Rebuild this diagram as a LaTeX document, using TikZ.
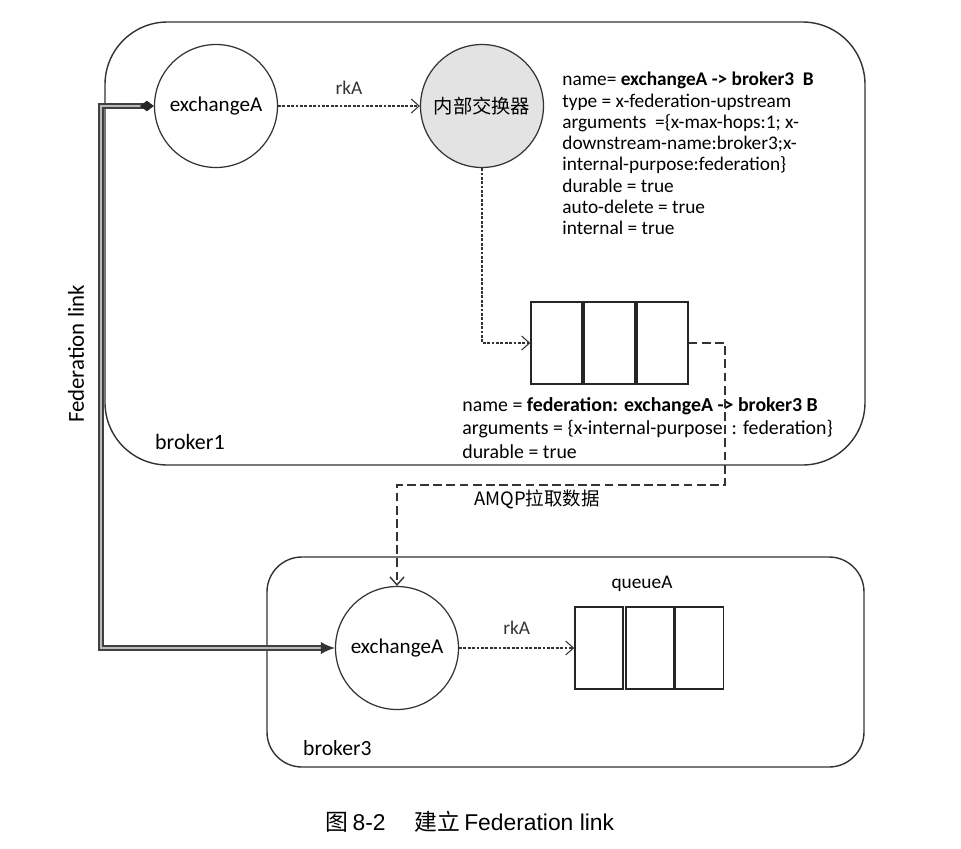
\documentclass[tikz,border=0pt]{standalone}
\usepackage{fontspec}
\setmainfont{Carlito}
\newfontfamily\cjk{Noto Sans CJK SC}
\newfontfamily\capfont{Liberation Sans}
\usetikzlibrary{arrows.meta}

\tikzset{
  broker/.style={draw=black!80, line width=0.8pt},
  exch/.style={circle, draw=black!80, line width=0.7pt, minimum size=2.46cm, inner sep=0pt, font=\fontsize{12}{14}\selectfont},
  cell/.style={draw=black!85, line width=0.8pt, minimum height=1.64cm, inner sep=0pt},
  bind/.style={black!80, line width=0.6pt, dash pattern=on 1.6pt off 0.9pt, -{Straight Barb[length=4.5pt,width=8pt]}},
  pull/.style={black!80, line width=0.8pt, dash pattern=on 5pt off 2.5pt, -{Straight Barb[length=4.5pt,width=8pt]}},
  fedlink/.style={draw=black!75, line width=0.9pt, double=gray!55, double distance=1.4pt,
    {Diamond[length=8pt,width=6pt,color=black!85,fill=black!85]}-{Latex[length=8pt,width=7pt,color=black!80,fill=black!80]}},
  info/.style={align=left, inner sep=0pt, anchor=north west},
}

\begin{document}
\begin{tikzpicture}[x=0.02cm, y=-0.02cm, every node/.style={font=\fontsize{11}{13}\selectfont}]
\useasboundingbox (0,0) rectangle (961,849);
\draw[broker, rounded corners=1.25cm] (105,22) rectangle (865,465);
\draw[broker, rounded corners=0.7cm] (267,557) rectangle (864,767);

\node[exch] (exA1) at (216,106) {exchangeA};
\node[exch, fill=gray!22, font=\fontsize{11}{13}\selectfont] (inner) at (482,106) {\cjk 内部交换器};
\foreach \i/\x in {1/556.5, 2/609.5, 3/662.5}
  \node[cell, minimum width=1.02cm] (fq\i) at (\x,343) {};
\node[exch] (exA3) at (397,648) {exchangeA};
\foreach \i/\x in {1/599, 2/650, 3/699.5}
  \node[cell, minimum width=0.96cm] (qa\i) at (\x,648) {};

\node[info, font=\fontsize{11}{12.1}\selectfont] (upinfo) at (562,72) {name= \textbf{exchangeA -> broker3\ \ B}\\
type = x-federation-upstream\\
arguments\ \ =\{x-max-hops:1; x-\\
downstream-name:broker3;x-\\
internal-purpose:federation\}\\
durable = true\\
auto-delete = true\\
internal = true};
\node[info, font=\fontsize{11.3}{13.3}\selectfont] (fedinfo) at (462,397) {name = \textbf{federation: exchangeA -> broker3 B}\\
arguments = \{x-internal-purpose\ \ : federation\}\\
durable = true};

\node[anchor=west, font=\fontsize{12.5}{14}\selectfont] (b1) at (149,442) {broker1};
\node[anchor=west, font=\fontsize{12.3}{14}\selectfont] (b3) at (297,748) {broker3};
\node (qlabel) at (642,584) {queueA};
\node[font=\fontsize{10.5}{13}\selectfont\cjk] (amqp) at (537,499) {AMQP拉取数据};
\node[rotate=90, font=\fontsize{13}{15}\selectfont] (fedlbl) at (76,354) {Federation link};

\draw[bind] (exA1) -- (inner) node[midway, above=3pt] (rk1) {rkA};
\draw[bind] (inner.south) |- (fq1.west);
\coordinate (pullR) at (725,485);
\draw[pull] (fq3.east) -| (pullR) -| (exA3.north);
\draw[bind] (exA3) -- (qa1) node[midway, above=4pt] (rk3) {rkA};
\coordinate (fedL) at (101,400);
\draw[fedlink] (exA1.west) -| (fedL) |- (exA3.west);

\node[font=\fontsize{13}{15}\selectfont\capfont] (cap) at (470,822) {{\cjk 图}\,8-2\quad\ {\cjk 建立}\,Federation link};
\end{tikzpicture}
\end{document}
